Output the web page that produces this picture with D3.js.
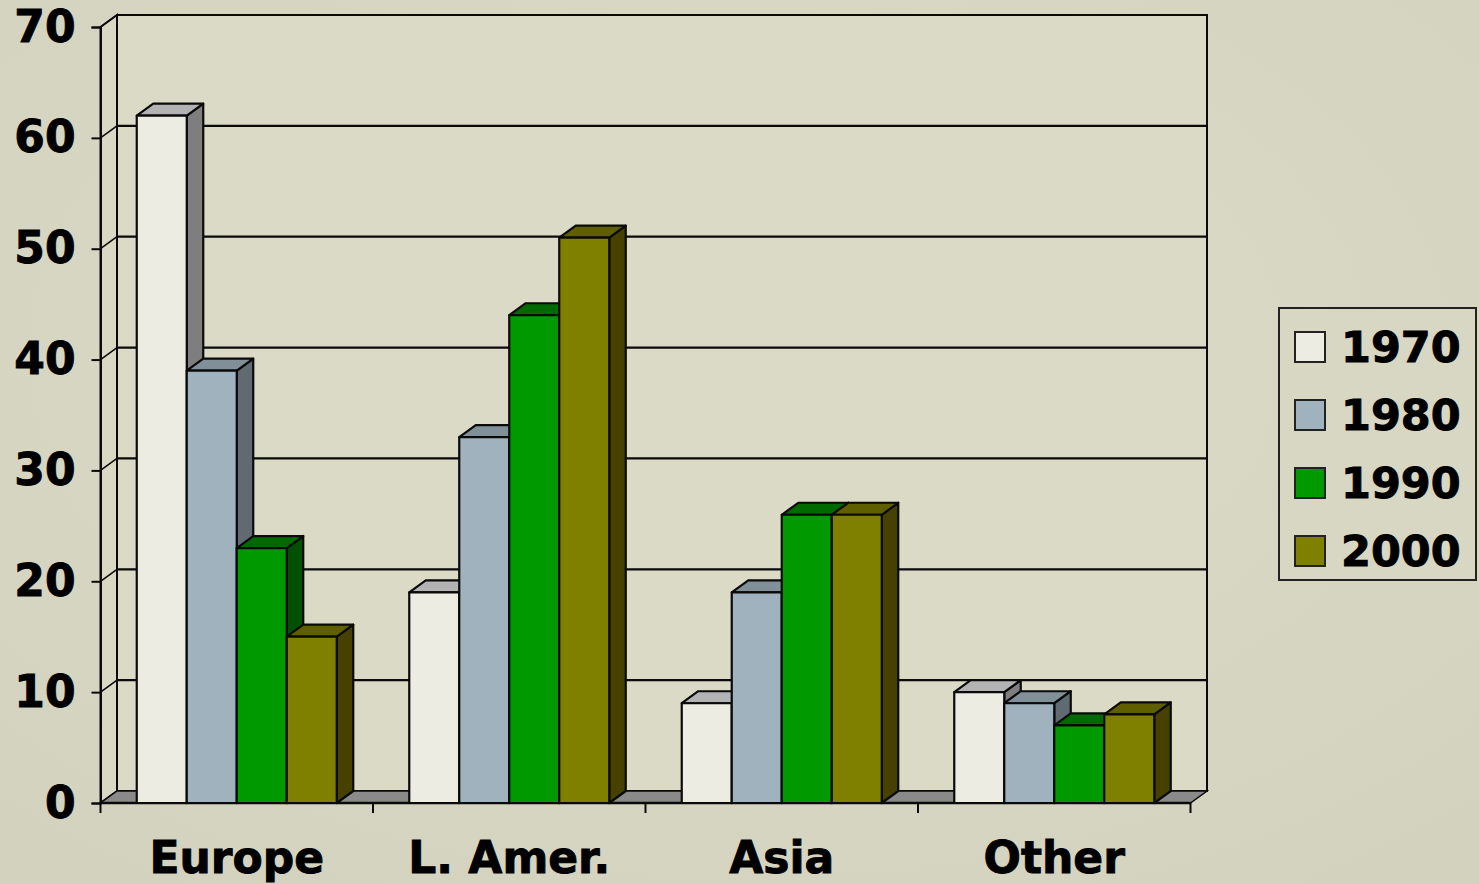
<!DOCTYPE html>
<html><head><meta charset="utf-8">
<script src="https://cdn.jsdelivr.net/npm/d3@7"></script>
<style>
html,body{margin:0;padding:0;background:#d7d6c2;overflow:hidden}
svg{display:block}
text{font-family:"DejaVu Sans",Verdana,sans-serif;font-weight:bold;fill:#000;stroke:#000;stroke-width:0.9px}
</style></head>
<body>
<script>
const categories = ["Europe", "L. Amer.", "Asia", "Other"];
const seriesNames = ["1970", "1980", "1990", "2000"];
const v1970 = [62, 19, 9, 10];
const v1980 = [39, 33, 19, 9];
const v1990 = [23, 44, 26, 7];
const v2000 = [15, 51, 26, 8];
const yTicks = [0, 10, 20, 30, 40, 50, 60, 70];

const seriesValues = [v1970, v1980, v1990, v2000];
const colors = {
  "1970": {front: "#ecece2", side: "#7e7e7e", top: "#b3b3b3"},
  "1980": {front: "#9fb2bd", side: "#5f6a71", top: "#808f98"},
  "1990": {front: "#009a00", side: "#005000", top: "#006a00"},
  "2000": {front: "#808000", side: "#474100", top: "#5f5f00"}
};

const W = 1479, H = 884;
const DX = 16.5, DY = -12;
const svg = d3.select("body").append("svg").attr("width", W).attr("height", H);

const defs = svg.append("defs");
const rg = defs.append("radialGradient").attr("id","bg").attr("cx","50%").attr("cy","40%").attr("r","75%");
rg.append("stop").attr("offset","0%").attr("stop-color","#dddcc8");
rg.append("stop").attr("offset","100%").attr("stop-color","#d3d2be");
svg.append("rect").attr("width",W).attr("height",H).attr("fill","url(#bg)");

const x0 = d3.scaleBand().domain(categories).range([100.5, 1190.5]).padding(0);
const x1 = d3.scaleBand().domain(seriesNames).range([0, x0.bandwidth()]).paddingInner(0).paddingOuter(0.725);
const y = d3.scaleLinear().domain([0, 70]).range([803, 27]);

const left = x0.range()[0], right = x0.range()[1];
const stroke = "#0a0a0a";

svg.append("rect").attr("x", left + DX).attr("y", y(70) + DY)
  .attr("width", right - left).attr("height", y(0) - y(70))
  .attr("fill", "#dbdac6").attr("stroke", stroke).attr("stroke-width", 2);
svg.append("path").attr("d", `M${left},${y(70)}L${left+DX},${y(70)+DY}L${left+DX},${y(0)+DY}L${left},${y(0)}Z`)
  .attr("fill", "#d9d8c5").attr("stroke", stroke).attr("stroke-width", 2);
svg.append("path").attr("d", `M${left},${y(0)}L${right},${y(0)}L${right+DX},${y(0)+DY}L${left+DX},${y(0)+DY}Z`)
  .attr("fill", "#8a8a8a").attr("stroke", stroke).attr("stroke-width", 1.5);

yTicks.filter(d => d > 0).forEach(v => {
  svg.append("line").attr("x1", left + DX).attr("x2", right + DX)
    .attr("y1", y(v) + DY).attr("y2", y(v) + DY).attr("stroke", stroke).attr("stroke-width", 2.2);
  svg.append("line").attr("x1", left).attr("x2", left + DX)
    .attr("y1", y(v)).attr("y2", y(v) + DY).attr("stroke", stroke).attr("stroke-width", 1.5);
});

const yAxis = d3.axisLeft(y).tickValues(yTicks).tickSize(9).tickPadding(16).tickFormat(d3.format("d"));
const gy = svg.append("g").attr("transform", `translate(${left},0)`).call(yAxis);
gy.select(".domain").attr("stroke", stroke).attr("stroke-width", 2);
gy.selectAll(".tick line").attr("stroke", stroke).attr("stroke-width", 2);
gy.selectAll(".tick text").style("font-size", "44px").attr("fill", "#000");

const gx = svg.append("g").attr("transform", `translate(0,${y(0)})`)
  .call(d3.axisBottom(x0).tickSize(0).tickPadding(0));
gx.select(".domain").remove();
gx.selectAll(".tick text").style("font-size", "44px").attr("dy", null).attr("y", 70);
svg.append("line").attr("x1", left).attr("x2", right).attr("y1", y(0)).attr("y2", y(0))
  .attr("stroke", stroke).attr("stroke-width", 2.5);
const bounds = categories.map(c => x0(c)).concat([right]);
svg.selectAll(".xt").data(bounds).enter().append("line")
  .attr("x1", d => d).attr("x2", d => d).attr("y1", y(0)).attr("y2", y(0) + 10)
  .attr("stroke", stroke).attr("stroke-width", 2);

const bars = [];
categories.forEach((c, ci) => {
  seriesNames.forEach((s, si) => {
    bars.push({c, s, v: seriesValues[si][ci]});
  });
});
const gb = svg.append("g");
bars.forEach(b => {
  const xa = x0(b.c) + x1(b.s), xb = xa + x1.bandwidth();
  const yt = y(b.v), yb = y(0);
  const col = colors[b.s];
  const g = gb.append("g").attr("stroke", stroke).attr("stroke-width", 2.2).attr("stroke-linejoin", "round");
  g.append("path").attr("d", `M${xb},${yt}L${xb+DX},${yt+DY}L${xb+DX},${yb+DY}L${xb},${yb}Z`).attr("fill", col.side);
  g.append("path").attr("d", `M${xa},${yt}L${xa+DX},${yt+DY}L${xb+DX},${yt+DY}L${xb},${yt}Z`).attr("fill", col.top);
  g.append("rect").attr("x", xa).attr("y", yt).attr("width", xb - xa).attr("height", yb - yt).attr("fill", col.front);
});

const lg = svg.append("g");
lg.append("rect").attr("x", 1279).attr("y", 308).attr("width", 197).attr("height", 272)
  .attr("fill", "#d8d7c3").attr("stroke", "#222").attr("stroke-width", 2);
seriesNames.forEach((s, i) => {
  const cy = 347 + i * 68;
  lg.append("rect").attr("x", 1295).attr("y", cy - 15).attr("width", 30).attr("height", 30)
    .attr("fill", colors[s].front).attr("stroke", "#222").attr("stroke-width", 2);
  lg.append("text").attr("x", 1341).attr("y", cy).attr("dominant-baseline", "central")
    .style("font-size", "43px").text(s);
});
</script>
</body></html>
